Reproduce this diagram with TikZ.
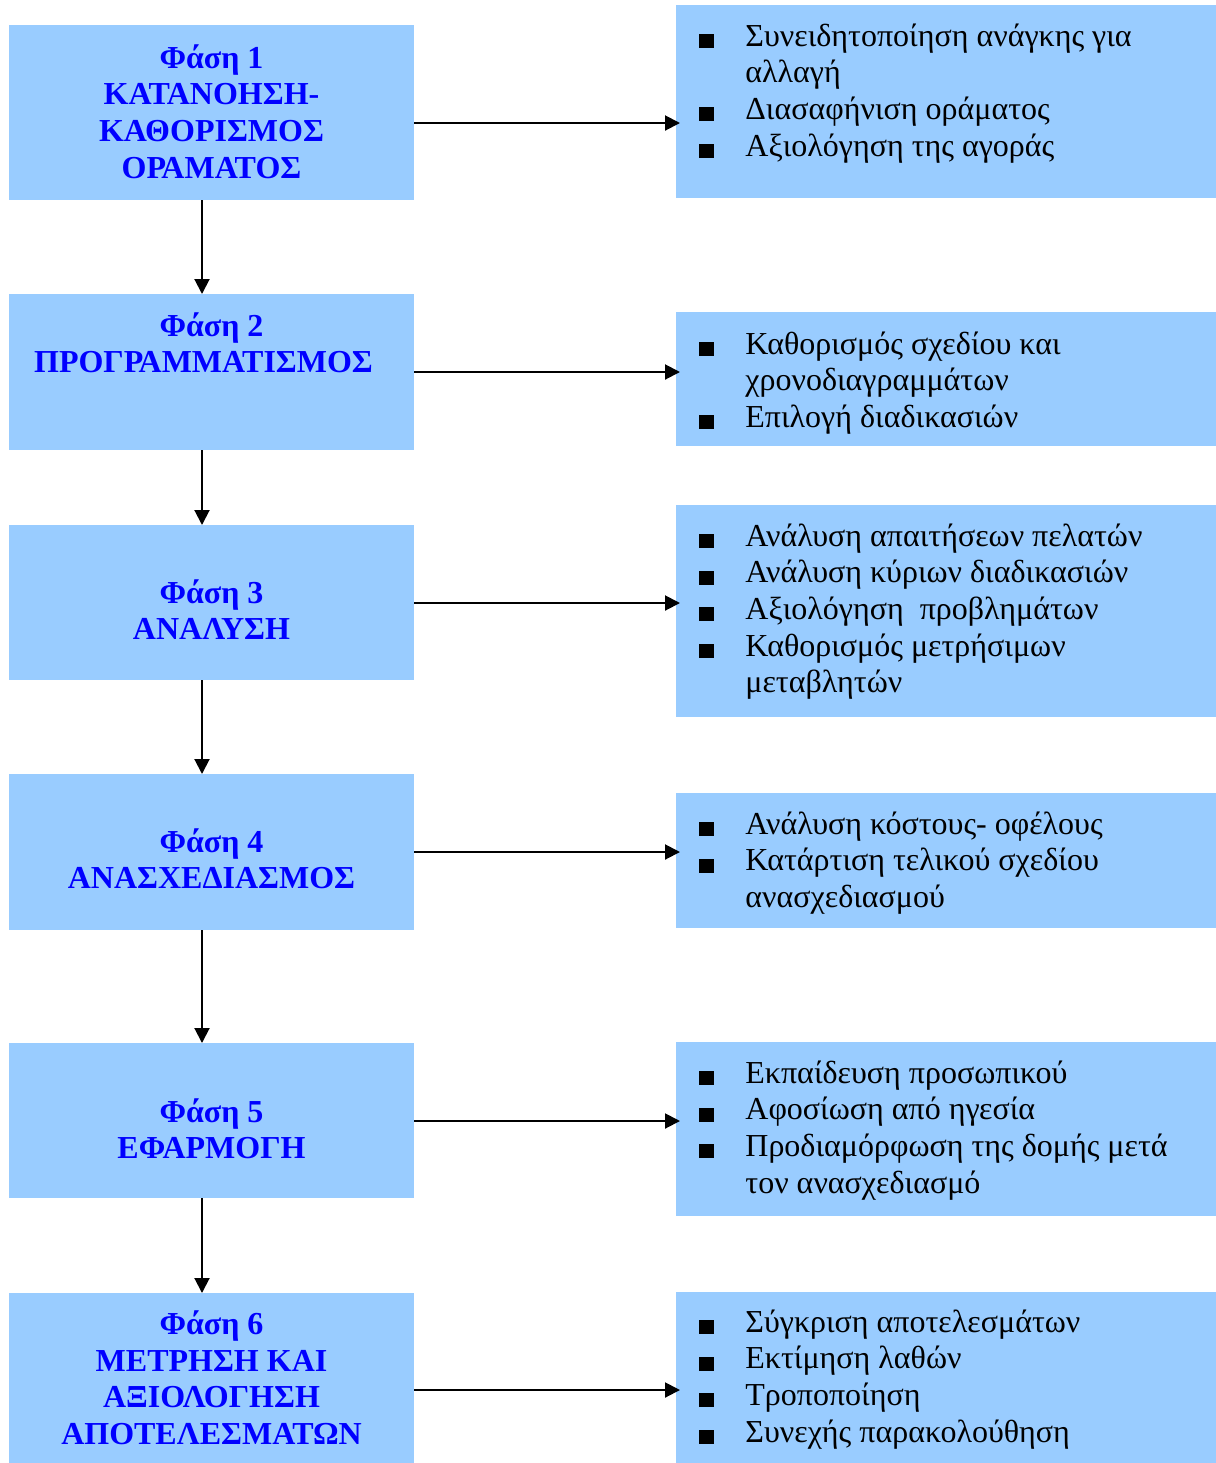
\documentclass[tikz,border=0pt]{standalone}
\usepackage{fontspec}
\setmainfont{Liberation Serif}
\usetikzlibrary{arrows.meta}
\definecolor{boxfill}{HTML}{99CCFF}
\definecolor{phblue}{HTML}{0000FF}
\newcommand\blt{\rule[-1pt]{7.5pt}{7pt}}
\begin{document}
\begin{tikzpicture}[x=0.5pt,y=-0.5pt,
  lbox/.style={fill=boxfill, draw=none, minimum width=202.5pt, inner sep=0pt, outer sep=0pt, anchor=north west},
  rbox/.style={fill=boxfill, draw=none, minimum width=270pt, inner sep=0pt, outer sep=0pt, anchor=north west},
  ltext/.style={inner sep=0pt, anchor=base, text=phblue, font=\fontsize{16}{18.35}\selectfont\bfseries},
  rtext/.style={inner sep=0pt, anchor=base west, font=\fontsize{16}{18.35}\selectfont},
  arr/.style={-{Triangle[length=7.5pt,width=7.5pt]}, line width=1pt}]
\useasboundingbox (0,0) rectangle (1216,1463);

% left boxes
\node[lbox, minimum height=87.5pt] (l1) at (9,25) {};
\node[lbox, minimum height=78pt]   (l2) at (9,294) {};
\node[lbox, minimum height=77.5pt] (l3) at (9,525) {};
\node[lbox, minimum height=78pt]   (l4) at (9,774) {};
\node[lbox, minimum height=77.5pt] (l5) at (9,1043) {};
\node[lbox, minimum height=85pt]   (l6) at (9,1293) {};

% right boxes
\node[rbox, minimum height=96.5pt] (r1) at (676,5) {};
\node[rbox, minimum height=67pt]   (r2) at (676,312) {};
\node[rbox, minimum height=106pt]  (r3) at (676,505) {};
\node[rbox, minimum height=67.5pt] (r4) at (676,793) {};
\node[rbox, minimum height=87pt]   (r5) at (676,1042) {};
\node[rbox, minimum height=85.5pt] (r6) at (676,1292) {};

% left texts
\node[ltext] (t1) at (211.5,68) {\begin{tabular}[t]{@{}c@{}}Φάση 1\\ ΚΑΤΑΝΟΗΣΗ-\\ ΚΑΘΟΡΙΣΜΟΣ\\ ΟΡΑΜΑΤΟΣ\end{tabular}};
\node[ltext] (t2) at (211.5,336) {\begin{tabular}[t]{@{}c@{}}Φάση 2\\ ΠΡΟΓΡΑΜΜΑΤΙΣΜΟΣ\rule{8pt}{0pt}\end{tabular}};
\node[ltext] (t3) at (211.5,603) {\begin{tabular}[t]{@{}c@{}}Φάση 3\\ ΑΝΑΛΥΣΗ\end{tabular}};
\node[ltext] (t4) at (211.5,852) {\begin{tabular}[t]{@{}c@{}}Φάση 4\\ ΑΝΑΣΧΕΔΙΑΣΜΟΣ\end{tabular}};
\node[ltext] (t5) at (211.5,1122) {\begin{tabular}[t]{@{}c@{}}Φάση 5\\ ΕΦΑΡΜΟΓΗ\end{tabular}};
\node[ltext] (t6) at (211.5,1334.5) {\begin{tabular}[t]{@{}c@{}}Φάση 6\\ ΜΕΤΡΗΣΗ ΚΑΙ\\ ΑΞΙΟΛΟΓΗΣΗ\\ ΑΠΟΤΕΛΕΣΜΑΤΩΝ\end{tabular}};

% right texts
\node[rtext] (s1) at (699,46) {\begin{tabular}[t]{@{}l@{\hspace{15.5pt}}l@{}}
\blt & Συνειδητοποίηση ανάγκης για\\
     & αλλαγή\\
\blt & Διασαφήνιση οράματος\\
\blt & Αξιολόγηση της αγοράς\end{tabular}};
\node[rtext] (s2) at (699,354) {\begin{tabular}[t]{@{}l@{\hspace{15.5pt}}l@{}}
\blt & Καθορισμός σχεδίου και\\
     & χρονοδιαγραμμάτων\\
\blt & Επιλογή διαδικασιών\end{tabular}};
\node[rtext] (s3) at (699,546) {\begin{tabular}[t]{@{}l@{\hspace{15.5pt}}l@{}}
\blt & Ανάλυση απαιτήσεων πελατών\\
\blt & Ανάλυση κύριων διαδικασιών\\
\blt & Αξιολόγηση\ \ προβλημάτων\\
\blt & Καθορισμός μετρήσιμων\\
     & μεταβλητών\end{tabular}};
\node[rtext] (s4) at (699,834) {\begin{tabular}[t]{@{}l@{\hspace{15.5pt}}l@{}}
\blt & Ανάλυση κόστους- οφέλους\\
\blt & Κατάρτιση τελικού σχεδίου\\
     & ανασχεδιασμού\end{tabular}};
\node[rtext] (s5) at (699,1083) {\begin{tabular}[t]{@{}l@{\hspace{15.5pt}}l@{}}
\blt & Εκπαίδευση προσωπικού\\
\blt & Αφοσίωση από ηγεσία\\
\blt & Προδιαμόρφωση της δομής μετά\\
     & τον ανασχεδιασμό\end{tabular}};
\node[rtext] (s6) at (699,1332) {\begin{tabular}[t]{@{}l@{\hspace{15.5pt}}l@{}}
\blt & Σύγκριση αποτελεσμάτων\\
\blt & Εκτίμηση λαθών\\
\blt & Τροποποίηση\\
\blt & Συνεχής παρακολούθηση\end{tabular}};

% horizontal arrows
\draw[arr, shorten >=-2pt] (l1.east |- 0,123) -- (r1.west |- 0,123);
\draw[arr, shorten >=-2pt] (l2.east |- 0,372) -- (r2.west |- 0,372);
\draw[arr, shorten >=-2pt] (l3.east |- 0,603) -- (r3.west |- 0,603);
\draw[arr, shorten >=-2pt] (l4.east |- 0,852) -- (r4.west |- 0,852);
\draw[arr, shorten >=-2pt] (l5.east |- 0,1121) -- (r5.west |- 0,1121);
\draw[arr, shorten >=-2pt] (l6.east |- 0,1390) -- (r6.west |- 0,1390);

% vertical arrows
\draw[arr] (l1.south -| 202,0) -- (l2.north -| 202,0);
\draw[arr] (l2.south -| 202,0) -- (l3.north -| 202,0);
\draw[arr] (l3.south -| 202,0) -- (l4.north -| 202,0);
\draw[arr] (l4.south -| 202,0) -- (l5.north -| 202,0);
\draw[arr] (l5.south -| 202,0) -- (l6.north -| 202,0);
\end{tikzpicture}
\end{document}
